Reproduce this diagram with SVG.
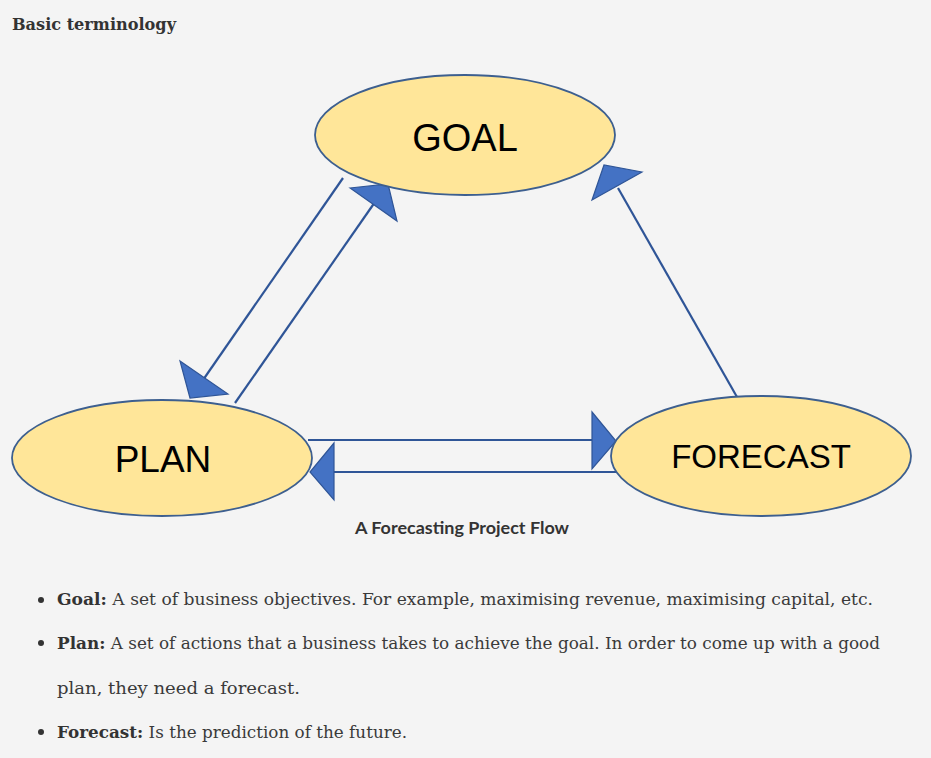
<svg xmlns="http://www.w3.org/2000/svg" width="931" height="758" viewBox="0 0 931 758">
<style>
.node{fill:#FFE699;stroke:#3D5F8F;stroke-width:1.8}
.lbl{font-family:"Liberation Sans",Arial,sans-serif;fill:#000;text-anchor:middle}
.conn{stroke:#2F5597;stroke-width:2.2;fill:none}
.head{fill:#4472C4;stroke:#2F5597;stroke-width:1.2;stroke-linejoin:miter}
.body{font-family:"DejaVu Serif","Liberation Serif",serif;font-size:17px;fill:#3a3a3a}
.b{font-weight:bold;fill:#333}
</style>
<rect width="931" height="758" fill="#f4f4f4"/>
<text x="12" y="30" font-family="DejaVu Serif, Liberation Serif, serif" font-size="17" font-weight="bold" fill="#333" textLength="164" lengthAdjust="spacingAndGlyphs">Basic terminology</text>

<g id="connectors">
<line class="conn" x1="343" y1="178" x2="203" y2="380"/>
<polygon class="head" points="180,361 228,394 190,398"/>
<line class="conn" x1="235" y1="403" x2="375" y2="202"/>
<polygon class="head" points="350,188 388,184 397,221"/>
<line class="conn" x1="737" y1="397" x2="618" y2="188"/>
<polygon class="head" points="642,172 604,165 592,200"/>
<line class="conn" x1="308" y1="440" x2="594" y2="440"/>
<polygon class="head" points="592,412 616,441 592,469"/>
<line class="conn" x1="616" y1="472" x2="332" y2="472"/>
<polygon class="head" points="334,443 310,472 334,500"/>
</g>

<g id="goal">
<ellipse class="node" cx="465" cy="135" rx="150" ry="60"/>
<text class="lbl" x="465" y="151" font-size="38">GOAL</text>
</g>
<g id="plan">
<ellipse class="node" cx="162" cy="458" rx="150" ry="58"/>
<text class="lbl" x="163" y="472" font-size="37">PLAN</text>
</g>
<g id="forecast">
<ellipse class="node" cx="761" cy="456" rx="150" ry="60"/>
<text class="lbl" x="761" y="468" font-size="33">FORECAST</text>
</g>

<text x="462" y="534" font-family="Lato, 'Liberation Sans', sans-serif" font-size="17" font-weight="bold" fill="#333" text-anchor="middle" textLength="214" lengthAdjust="spacingAndGlyphs">A Forecasting Project Flow</text>

<g fill="#333">
<circle cx="41" cy="600" r="3"/>
<circle cx="41" cy="643" r="3"/>
<circle cx="41" cy="732" r="3"/>
</g>
<text class="body" x="57" y="605" textLength="816" lengthAdjust="spacingAndGlyphs"><tspan class="b">Goal:</tspan> A set of business objectives. For example, maximising revenue, maximising capital, etc.</text>
<text class="body" x="57" y="649" textLength="823" lengthAdjust="spacingAndGlyphs"><tspan class="b">Plan:</tspan> A set of actions that a business takes to achieve the goal. In order to come up with a good</text>
<text class="body" x="57" y="694" textLength="243" lengthAdjust="spacingAndGlyphs">plan, they need a forecast.</text>
<text class="body" x="57" y="738" textLength="350" lengthAdjust="spacingAndGlyphs"><tspan class="b">Forecast:</tspan> Is the prediction of the future.</text>
</svg>
